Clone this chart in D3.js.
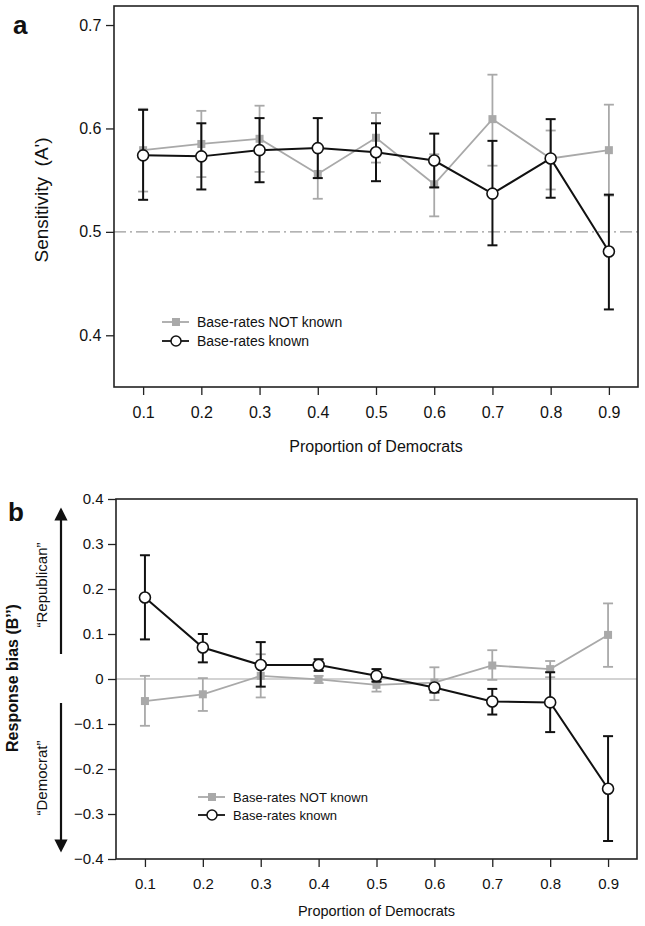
<!DOCTYPE html>
<html>
<head>
<meta charset="utf-8">
<script src="https://cdn.jsdelivr.net/npm/d3@7"></script>
<style>
  body { margin: 0; background: #fff; }
  svg { font-family: "Liberation Sans", Arial, sans-serif; }
</style>
</head>
<body>
<div id="chart"></div>
<script>
// proportions on the x axis
const proportions = [0.1, 0.2, 0.3, 0.4, 0.5, 0.6, 0.7, 0.8, 0.9];

// panel a: sensitivity (A')
const sensNotKnown      = [0.579, 0.585, 0.590, 0.556, 0.591, 0.546, 0.609, 0.571, 0.579];
const sensNotKnownLow   = [0.539, 0.553, 0.558, 0.532, 0.567, 0.515, 0.564, 0.541, 0.535];
const sensNotKnownHigh  = [0.619, 0.617, 0.622, 0.580, 0.615, 0.575, 0.652, 0.598, 0.623];
const sensKnown         = [0.574, 0.573, 0.579, 0.581, 0.577, 0.569, 0.537, 0.571, 0.481];
const sensKnownLow      = [0.531, 0.541, 0.548, 0.552, 0.549, 0.543, 0.487, 0.533, 0.425];
const sensKnownHigh     = [0.618, 0.605, 0.610, 0.610, 0.605, 0.595, 0.588, 0.609, 0.536];

// panel b: response bias (B'')
const biasNotKnown      = [-0.049, -0.034, 0.007, -0.001, -0.013, -0.008, 0.030, 0.022, 0.098];
const biasNotKnownLow   = [-0.104, -0.071, -0.041, -0.009, -0.028, -0.047, -0.002, 0.004, 0.027];
const biasNotKnownHigh  = [0.007, 0.002, 0.055, 0.007, -0.005, 0.026, 0.064, 0.040, 0.168];
const biasKnown         = [0.181, 0.070, 0.031, 0.031, 0.007, -0.019, -0.050, -0.052, -0.244];
const biasKnownLow      = [0.088, 0.037, -0.017, 0.018, -0.006, -0.030, -0.079, -0.118, -0.360];
const biasKnownHigh     = [0.275, 0.100, 0.082, 0.044, 0.022, -0.012, -0.022, 0.015, -0.127];

const sensTicks = [0.4, 0.5, 0.6, 0.7];
const biasTicks = [-0.4, -0.3, -0.2, -0.1, 0, 0.1, 0.2, 0.3, 0.4];
const legendLabels = ["Base-rates NOT known", "Base-rates known"];

const GRAY = "#a9a9a9";
const BLACK = "#111";

const svg = d3.select("#chart").append("svg")
    .attr("width", 645)
    .attr("height", 926);

function makeSeries(mean, lo, hi) {
    return proportions.map((p, i) => ({ x: p, y: mean[i], lo: lo[i], hi: hi[i] }));
}

// draws one panel
function drawPanel(opt) {
    const x = d3.scaleLinear().domain([0.05, 0.95]).range([opt.left, opt.right]);
    const y = d3.scaleLinear().domain(opt.yDomain).range([opt.bottom, opt.top]);
    const g = svg.append("g");

    // x axis
    const xAxis = g.append("g")
        .attr("transform", `translate(0,${opt.bottom})`)
        .call(d3.axisBottom(x).tickValues(proportions).tickSize(8).tickFormat(d3.format(".1f")));
    xAxis.select(".domain").remove();
    xAxis.selectAll("line").attr("stroke", "#222").attr("stroke-width", 1.3);
    xAxis.selectAll("text").attr("fill", "#111").style("font-size", opt.tickFont + "px").attr("dy", "1.25em");

    // y axis
    const yAxis = g.append("g")
        .attr("transform", `translate(${opt.left},0)`)
        .call(d3.axisLeft(y).tickValues(opt.yTicks).tickSize(8).tickFormat(opt.yFormat));
    yAxis.select(".domain").remove();
    yAxis.selectAll("line").attr("stroke", "#222").attr("stroke-width", 1.3);
    yAxis.selectAll("text").attr("fill", "#111").style("font-size", opt.tickFont + "px").attr("dx", "-0.1em");

    // reference line
    g.append("line")
        .attr("x1", opt.left).attr("x2", opt.right)
        .attr("y1", y(opt.refValue)).attr("y2", y(opt.refValue))
        .attr("stroke", opt.refColor)
        .attr("stroke-width", 1.3)
        .attr("stroke-dasharray", opt.refDash);

    const line = d3.line().x(d => x(d.x)).y(d => y(d.y));

    function drawSeries(data, color, width, marker) {
        const s = g.append("g");
        s.selectAll("line.err").data(data).enter().append("line")
            .attr("x1", d => x(d.x)).attr("x2", d => x(d.x))
            .attr("y1", d => y(d.lo)).attr("y2", d => y(d.hi))
            .attr("stroke", color).attr("stroke-width", width);
        ["lo", "hi"].forEach(k => {
            s.selectAll("line.cap" + k).data(data).enter().append("line")
                .attr("x1", d => x(d.x) - 5).attr("x2", d => x(d.x) + 5)
                .attr("y1", d => y(d[k])).attr("y2", d => y(d[k]))
                .attr("stroke", color).attr("stroke-width", width);
        });
        s.append("path").datum(data)
            .attr("d", line)
            .attr("fill", "none")
            .attr("stroke", color)
            .attr("stroke-width", width);
        if (marker === "square") {
            s.selectAll("rect").data(data).enter().append("rect")
                .attr("x", d => x(d.x) - 4).attr("y", d => y(d.y) - 4)
                .attr("width", 8).attr("height", 8)
                .attr("fill", color);
        } else {
            s.selectAll("circle").data(data).enter().append("circle")
                .attr("cx", d => x(d.x)).attr("cy", d => y(d.y))
                .attr("r", 5.5)
                .attr("fill", "#fff")
                .attr("stroke", color).attr("stroke-width", 1.6);
        }
    }

    drawSeries(opt.gray, GRAY, 1.8, "square");
    drawSeries(opt.black, BLACK, 2, "circle");

    // frame
    g.append("rect")
        .attr("x", opt.left).attr("y", opt.top)
        .attr("width", opt.right - opt.left).attr("height", opt.bottom - opt.top)
        .attr("fill", "none").attr("stroke", "#222").attr("stroke-width", 1.6);

    // legend
    const lg = g.append("g").attr("transform", `translate(${opt.legendX},${opt.legendY})`);
    legendLabels.forEach((lab, i) => {
        const row = lg.append("g").attr("transform", `translate(0,${i * opt.legendGap})`);
        const c = i === 0 ? GRAY : BLACK;
        row.append("line").attr("x1", 0).attr("x2", 27).attr("stroke", c).attr("stroke-width", 1.8);
        if (i === 0) {
            row.append("rect").attr("x", 10).attr("y", -4).attr("width", 8).attr("height", 8).attr("fill", c);
        } else {
            row.append("circle").attr("cx", 14).attr("r", 5).attr("fill", "#fff")
                .attr("stroke", c).attr("stroke-width", 1.5);
        }
        row.append("text").attr("x", 35).attr("dy", "0.35em")
            .style("font-size", opt.legendFont + "px").attr("fill", "#111").text(lab);
    });

    // x title
    g.append("text")
        .attr("x", (opt.left + opt.right) / 2)
        .attr("y", opt.xTitleY)
        .attr("text-anchor", "middle")
        .style("font-size", opt.xTitleFont + "px")
        .attr("fill", "#111")
        .text("Proportion of Democrats");

    // panel letter
    g.append("text")
        .attr("x", opt.letterX).attr("y", opt.letterY)
        .style("font-size", "26px").style("font-weight", "bold")
        .attr("fill", "#111")
        .text(opt.letter);

    return { g, x, y };
}

// panel a
const pa = drawPanel({
    left: 114, right: 638, top: 6, bottom: 387,
    yDomain: [0.35, 0.7184], yTicks: sensTicks, yFormat: d3.format(".1f"),
    refValue: 0.5, refColor: "#9a9a9a", refDash: "12,4,2,4",
    gray: makeSeries(sensNotKnown, sensNotKnownLow, sensNotKnownHigh),
    black: makeSeries(sensKnown, sensKnownLow, sensKnownHigh),
    legendX: 162, legendY: 322, legendGap: 19, legendFont: 14,
    tickFont: 16, xTitleY: 452, xTitleFont: 16,
    letter: "a", letterX: 13, letterY: 34
});

pa.g.append("text")
    .attr("transform", "translate(48,200) rotate(-90)")
    .attr("text-anchor", "middle")
    .style("font-size", "19px")
    .attr("fill", "#111")
    .attr("xml:space", "preserve")
    .text("Sensitivity  (A')");

// panel b
const pb = drawPanel({
    left: 116, right: 637, top: 499, bottom: 859,
    yDomain: [-0.4, 0.4], yTicks: biasTicks, yFormat: d => d === 0 ? "0" : d3.format(".1f")(d),
    refValue: 0, refColor: "#c4c4c4", refDash: null,
    gray: makeSeries(biasNotKnown, biasNotKnownLow, biasNotKnownHigh),
    black: makeSeries(biasKnown, biasKnownLow, biasKnownHigh),
    legendX: 198, legendY: 797, legendGap: 18, legendFont: 13,
    tickFont: 15, xTitleY: 916, xTitleFont: 14.5,
    letter: "b", letterX: 8, letterY: 521
});

// y title and direction arrows
pb.g.append("text")
    .attr("transform", "translate(18,678) rotate(-90)")
    .attr("text-anchor", "middle")
    .style("font-size", "16px").style("font-weight", "bold")
    .attr("fill", "#111")
    .text("Response bias (B\u2019\u2019)");

const defs = svg.append("defs");
defs.append("marker")
    .attr("id", "arrowhead")
    .attr("viewBox", "0 0 10 10")
    .attr("refX", 5).attr("refY", 5)
    .attr("markerWidth", 6).attr("markerHeight", 6)
    .attr("markerUnits", "strokeWidth")
    .attr("orient", "auto")
    .append("path").attr("d", "M0,0 L10,5 L0,10 Z").attr("fill", "#111");

pb.g.append("line")
    .attr("x1", 61).attr("x2", 61).attr("y1", 654).attr("y2", 514)
    .attr("stroke", "#111").attr("stroke-width", 2.2)
    .attr("marker-end", "url(#arrowhead)");
pb.g.append("line")
    .attr("x1", 61).attr("x2", 61).attr("y1", 703).attr("y2", 846)
    .attr("stroke", "#111").attr("stroke-width", 2.2)
    .attr("marker-end", "url(#arrowhead)");

pb.g.append("text")
    .attr("transform", "translate(47,585) rotate(-90)")
    .attr("text-anchor", "middle")
    .style("font-size", "15px")
    .attr("fill", "#111")
    .text("\u201CRepublican\u201D");
pb.g.append("text")
    .attr("transform", "translate(47,778) rotate(-90)")
    .attr("text-anchor", "middle")
    .style("font-size", "15px")
    .attr("fill", "#111")
    .text("\u201CDemocrat\u201D");
</script>
</body>
</html>
